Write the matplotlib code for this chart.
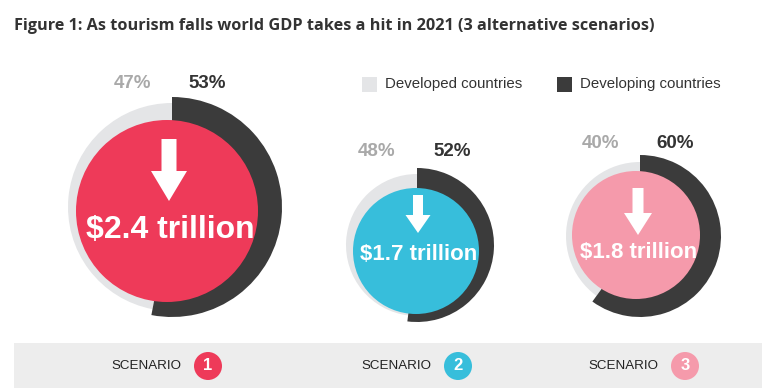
import matplotlib.pyplot as plt
from matplotlib.patches import Wedge, Circle, Rectangle, FancyArrow

# data
scenarios = ['1', '2', '3']
developed = [47, 48, 40]
developing = [53, 52, 60]
gdp_loss = [2.4, 1.7, 1.8]

# layout (pixel coords, y down)
ring_cx = [172, 417, 640]
ring_cy = [207, 245, 236]
ring_r = [110, 77, 81]
grey_r = [104, 71, 74]
core_cx = [167, 416, 636]
core_cy = [211, 251, 235]
core_r = [91, 63, 64]
core_col = ['#ee3a59', '#37bedb', '#f59aab']
pct_y = [83, 151, 143]
val_fs = [23, 16, 16]
val_dy = [19, 3, 18]
arrow_top = [-72, -56, -47]
arrow_len = [62, 38, 47]
arrow_w = [15, 10, 11]
head_w = [36, 25, 28]
head_l = [30, 18, 22]
band_x = [170, 420, 647]

DARK = '#3b3b3b'
GREY = '#e4e5e7'
W, H = 782, 390

fig = plt.figure(figsize=(W / 100, H / 100), dpi=100)
ax = fig.add_axes([0, 0, 1, 1])
ax.set_xlim(0, W)
ax.set_ylim(H, 0)
ax.axis('off')

fig.text(14 / W, 1 - 26 / H, 'Figure 1: As tourism falls world GDP takes a hit in 2021 (3 alternative scenarios)',
         fontfamily='Open Sans', fontweight='bold', fontsize=11.7, color='#333333', va='center', ha='left')

bold = ['Liberation Sans', 'DejaVu Sans']

for i in range(3):
    cx, cy = ring_cx[i], ring_cy[i]
    split = -90 + 3.6 * developing[i]
    ax.add_patch(Wedge((cx, cy), grey_r[i], split, 270, color=GREY, lw=0))
    ax.add_patch(Wedge((cx, cy), ring_r[i], -90, split, color=DARK, lw=0))
    ax.add_patch(Circle((core_cx[i], core_cy[i]), core_r[i], color=core_col[i], lw=0))
    # arrow
    ax.add_patch(FancyArrow(core_cx[i] + 2, core_cy[i] + arrow_top[i], 0, arrow_len[i],
                            width=arrow_w[i], head_width=head_w[i], head_length=head_l[i],
                            length_includes_head=True, color='white', lw=0))
    ax.text(core_cx[i] + 3, core_cy[i] + val_dy[i], '$%.1f trillion' % gdp_loss[i], color='white',
            fontsize=val_fs[i], fontweight='bold', family=bold, ha='center', va='center')
    ax.text(cx - 40, pct_y[i], '%d%%' % developed[i], color='#a9a9a9', fontsize=13.5,
            fontweight='bold', family=bold, ha='center', va='center')
    ax.text(cx + 35, pct_y[i], '%d%%' % developing[i], color='#333333', fontsize=13.5,
            fontweight='bold', family=bold, ha='center', va='center')

# legend
ax.add_patch(Rectangle((362, 77), 15, 15, color=GREY, lw=0))
ax.text(385, 84, 'Developed countries', fontsize=10.8, family=bold, color='#333333', va='center')
ax.add_patch(Rectangle((557, 77), 15, 15, color=DARK, lw=0))
ax.text(580, 84, 'Developing countries', fontsize=10.8, family=bold, color='#333333', va='center')

# scenario band
ax.add_patch(Rectangle((14, 343), 748, 45, color='#ededed', lw=0))
for i in range(3):
    ax.text(band_x[i] - 24, 366, 'SCENARIO', fontsize=9.6, family=bold, color='#222222',
            ha='center', va='center')
    ax.add_patch(Circle((band_x[i] + 38, 366), 14, color=core_col[i], lw=0))
    ax.text(band_x[i] + 38, 366, scenarios[i], fontsize=12, fontweight='bold', family=bold,
            color='white', ha='center', va='center')

fig.savefig('out.png', dpi=100, facecolor='white')
